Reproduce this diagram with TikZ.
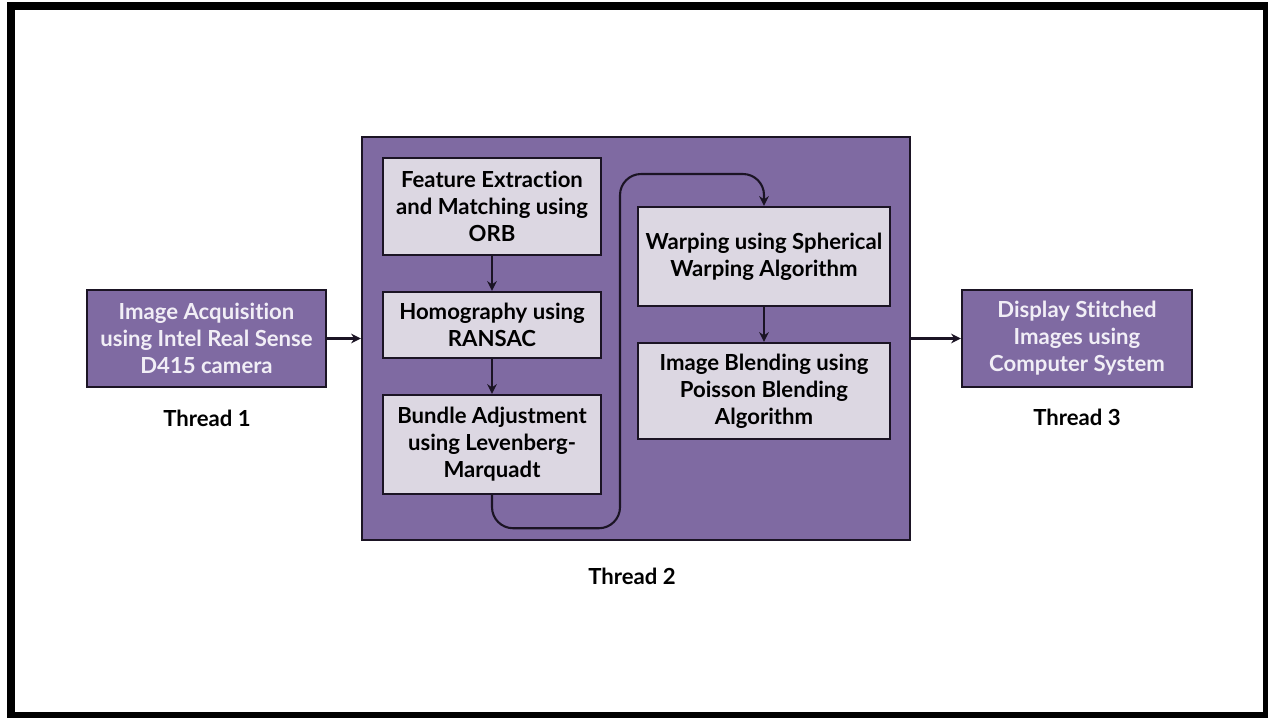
\documentclass[tikz,border=0pt]{standalone}
\usepackage{fontspec}
\setmainfont[Ligatures=NoCommon]{Lato}
\usepackage{tikz}
\usetikzlibrary{arrows.meta}

\definecolor{threadpurple}{HTML}{7F6AA2}
\definecolor{steplight}{HTML}{DCD7E2}
\definecolor{edgedark}{HTML}{1B1424}
\definecolor{textlight}{HTML}{F1EEF6}

\begin{document}
\begin{tikzpicture}[x=0.02cm, y=-0.02cm, >={Stealth[length=5.5pt,width=5.5pt]},
    font=\bfseries\fontsize{12.6}{15.4}\selectfont]
  \tikzstyle{threadbox}=[draw=edgedark, line width=1.4pt, fill=threadpurple,
    text=textlight, align=center, inner sep=0pt]
  \tikzstyle{stepbox}=[draw=edgedark, line width=1.4pt, fill=steplight,
    text=black, align=center, inner sep=0pt]
  \tikzstyle{flow}=[draw=edgedark, line width=1.2pt, ->]

  \useasboundingbox (0,0) rectangle (1268,717);
  \fill[white] (0,0) rectangle (1268,717);
  \draw[line width=4.5pt] (11,6) rectangle (1267,716);

  % thread 1
  \node[threadbox, minimum width=4.78cm, minimum height=1.94cm] (acq) at (206.5,338.5)
    {Image Acquisition\\using Intel Real Sense\\D415 camera};
  \node (t1) at (207,418) {Thread 1};

  % thread 2
  \node[threadbox, minimum width=10.96cm, minimum height=8.06cm] (pipe) at (636,338.5) {};
  \node (t2) at (632,576) {Thread 2};

  \node[stepbox, minimum width=4.36cm, minimum height=1.94cm] (feat) at (492,206.5)
    {Feature Extraction\\and Matching using\\ORB};
  \node[stepbox, minimum width=4.36cm, minimum height=1.32cm] (homo) at (492,325)
    {Homography using\\RANSAC};
  \node[stepbox, minimum width=4.36cm, minimum height=1.98cm] (bundle) at (492,444.5)
    {Bundle Adjustment\\using Levenberg-\\Marquadt};
  \node[stepbox, minimum width=5.04cm, minimum height=1.98cm] (warp) at (764,256.5)
    {Warping using Spherical\\Warping Algorithm};
  \node[stepbox, minimum width=5.04cm, minimum height=1.92cm] (blend) at (764,391)
    {Image Blending using\\Poisson Blending\\Algorithm};

  % thread 3
  \node[threadbox, minimum width=4.6cm, minimum height=1.94cm] (disp) at (1077,338.5)
    {Display Stitched\\Images using\\Computer System};
  \node (t3) at (1077,417) {Thread 3};

  \draw[flow] (acq) -- (acq -| pipe.west);
  \draw[flow] (feat) -- (homo);
  \draw[flow] (homo) -- (bundle);
  \draw[flow, rounded corners=12pt] (bundle.south) -- ++(0,33) -| (620,174) -| (warp.north);
  \draw[flow] (warp) -- (blend);
  \draw[flow] (pipe.east |- disp) -- (disp);
\end{tikzpicture}
\end{document}
